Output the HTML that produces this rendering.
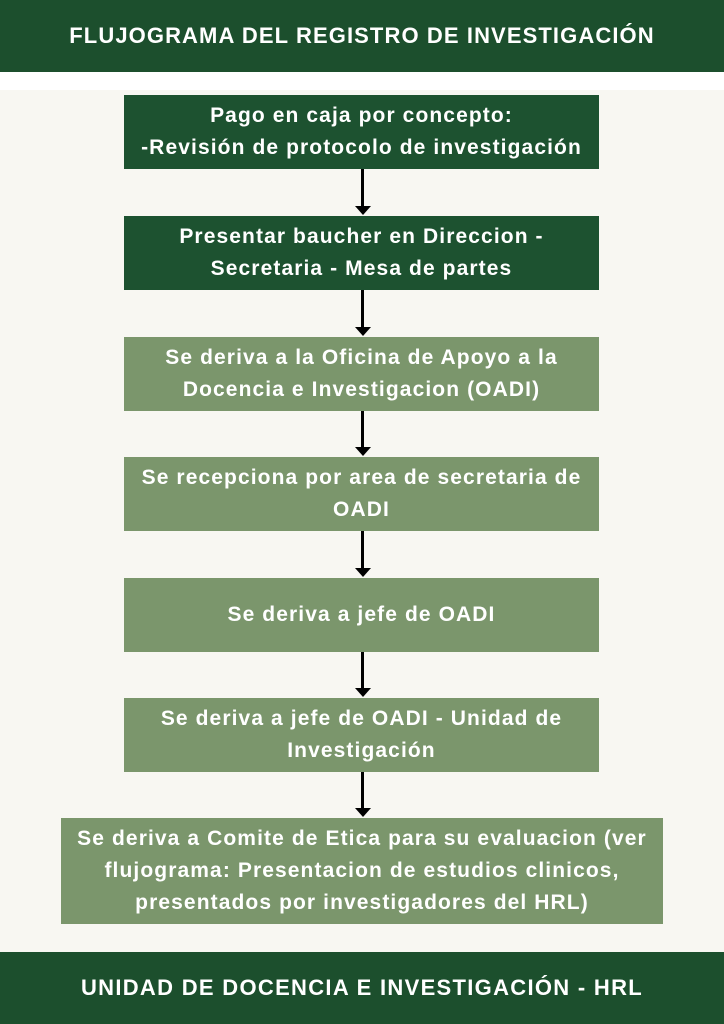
<!DOCTYPE html>
<html><head><meta charset="utf-8"><style>
body{margin:0;width:724px;height:1024px;background:#f8f7f2;position:relative;overflow:hidden;font-family:"Liberation Sans",sans-serif;font-weight:bold;color:#fff}
.bar{position:absolute;left:0;width:724px;height:72px;background:#1c4f2d;display:flex;align-items:center;justify-content:center;font-size:22px;letter-spacing:1.1px}
.w{position:absolute;left:0;top:72px;width:724px;height:18px;background:#fff}
.b{position:absolute;left:124px;width:475px;height:74px;display:flex;align-items:center;justify-content:center;text-align:center;font-size:21px;letter-spacing:1.1px;line-height:32px;white-space:nowrap}
.d{background:#1d5230}.l{background:#7b966c}
.a{position:absolute;left:361px;width:3px;background:#000}
.h{position:absolute;left:355px;width:0;height:0;border-left:8px solid transparent;border-right:8px solid transparent;border-top:9px solid #000}
</style></head><body>
<div class="bar" style="top:0">FLUJOGRAMA DEL REGISTRO DE INVESTIGACIÓN</div>
<div class="w"></div>
<div class="b d" style="top:95px">Pago en caja por concepto:<br>-Revisión de protocolo de investigación</div>
<div class="b d" style="top:216px">Presentar baucher en Direccion -<br>Secretaria - Mesa de partes</div>
<div class="b l" style="top:337px">Se deriva a la Oficina de Apoyo a la<br>Docencia e Investigacion (OADI)</div>
<div class="b l" style="top:457px">Se recepciona por area de secretaria de<br>OADI</div>
<div class="b l" style="top:578px">Se deriva a jefe de OADI</div>
<div class="b l" style="top:698px">Se deriva a jefe de OADI - Unidad de<br>Investigación</div>
<div class="b l" style="top:818px;left:61px;width:602px;height:106px">Se deriva a Comite de Etica para su evaluacion (ver<br>flujograma: Presentacion de estudios clinicos,<br>presentados por investigadores del HRL)</div>
<div class="a" style="top:169px;height:38px"></div><div class="h" style="top:206px"></div>
<div class="a" style="top:290px;height:38px"></div><div class="h" style="top:327px"></div>
<div class="a" style="top:411px;height:37px"></div><div class="h" style="top:447px"></div>
<div class="a" style="top:531px;height:38px"></div><div class="h" style="top:568px"></div>
<div class="a" style="top:652px;height:37px"></div><div class="h" style="top:688px"></div>
<div class="a" style="top:772px;height:37px"></div><div class="h" style="top:808px"></div>
<div class="bar" style="top:952px;letter-spacing:1.3px">UNIDAD DE DOCENCIA E INVESTIGACIÓN - HRL</div>
</body></html>
